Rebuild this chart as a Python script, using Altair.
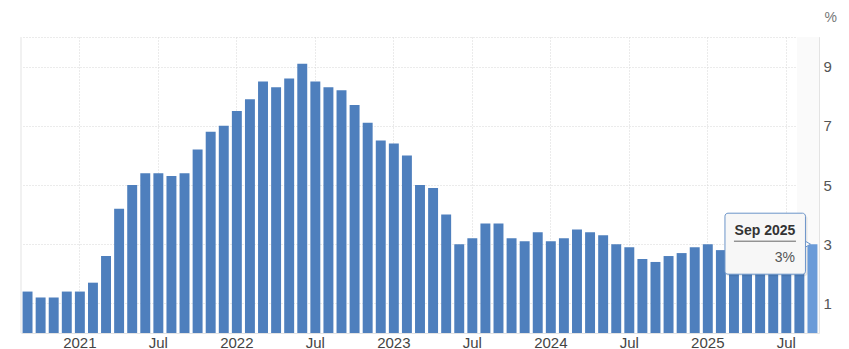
import altair as alt
import pandas as pd

# ---- data -------------------------------------------------------------
years = [2020] * 4 + [2021] * 12 + [2022] * 12 + [2023] * 12 + [2024] * 12 + [2025] * 9
month_nums = [9, 10, 11, 12] + list(range(1, 13)) * 4 + list(range(1, 10))
months = [f"{y}-{m:02d}" for y, m in zip(years, month_nums)]

values = [1.4, 1.2, 1.2, 1.4,
          1.4, 1.7, 2.6, 4.2, 5.0, 5.4, 5.4, 5.3, 5.4, 6.2, 6.8, 7.0,
          7.5, 7.9, 8.5, 8.3, 8.6, 9.1, 8.5, 8.3, 8.2, 7.7, 7.1, 6.5,
          6.4, 6.0, 5.0, 4.9, 4.0, 3.0, 3.2, 3.7, 3.7, 3.2, 3.1, 3.4,
          3.1, 3.2, 3.5, 3.4, 3.3, 3.0, 2.9, 2.5, 2.4, 2.6, 2.7, 2.9,
          3.0, 2.8, 2.4, 2.3, 2.4, 2.7, 2.7, 2.9, 3.0]

x_tick_values = [f"{y}-{m:02d}" for y in range(2021, 2026) for m in (1, 7)]
y_tick_values = [1, 3, 5, 7, 9, 10]

tip_month = "2025-09"
tip_value = 3.0
tip_title = "Sep 2025"
tip_text = "3%"

df = pd.DataFrame({"month": months, "value": values})
df["hl"] = df["month"] == tip_month
tip = pd.DataFrame({"month": [tip_month], "value": [tip_value],
                    "title": [tip_title], "text": [tip_text]})

# ---- styling ----------------------------------------------------------
FONT = "Liberation Sans"
GRID = "#d6d6d6"
LINE = "#e3e3e3"

xscale = alt.Scale(domain=months, paddingInner=0.24, paddingOuter=0.12)
yscale = alt.Scale(domain=[0, 10], nice=False, zero=True)

x_axis = alt.Axis(
    values=x_tick_values,
    labelExpr="substring(datum.value, 5) == '01' ? substring(datum.value, 0, 4) : 'Jul'",
    labelAngle=0, ticks=False, domain=True, domainColor=LINE,
    grid=True, gridColor=GRID, gridDash=[1, 2], gridWidth=1,
    bandPosition=0.5, labelPadding=2, labelFontSize=15,
    labelColor="#444", labelFont=FONT, title=None, zindex=0,
)
y_axis = alt.Axis(
    orient="right", values=y_tick_values,
    labelExpr="datum.value == 10 ? '' : datum.label",
    ticks=False, domain=True, domainColor=LINE,
    grid=True, gridColor=GRID, gridDash=[1, 2], gridWidth=1,
    labelPadding=4, labelFontSize=15, labelColor="#555", labelFont=FONT,
    title="%", titleAngle=0, titleAlign="left", titleBaseline="middle",
    titleX=5, titleY=-20, titleFontSize=14, titleFontWeight="normal",
    titleColor="#777", titleFont=FONT, zindex=0,
)

base = alt.Chart(df)

# faint hover column behind the highlighted bar
hover = alt.Chart(tip).mark_rect(
    color="#fafafa", xOffset=-15.5, x2Offset=6.5
).encode(
    x=alt.X("month:N", scale=xscale, bandPosition=0.5, axis=x_axis, sort=months),
    x2=alt.X2("month", bandPosition=0.5),
    y=alt.value(0), y2=alt.value(296),
)

bars = base.mark_bar().encode(
    x=alt.X("month:N", scale=xscale, axis=x_axis, sort=months),
    y=alt.Y("value:Q", scale=yscale, axis=y_axis),
    color=alt.condition("datum.hl", alt.value("#6a9bd8"), alt.value("#4e7fbd")),
)

left_line = alt.Chart(tip).mark_rule(color=LINE, strokeWidth=1).encode(
    x=alt.value(0), y=alt.value(0), y2=alt.value(296)
)

tx = dict(x=alt.X("month:N", scale=xscale, bandPosition=0.5, sort=months),
          y=alt.Y("value:Q", scale=yscale))

shadow = alt.Chart(tip).mark_rect(
    color="#000000", opacity=0.08, xOffset=-86.5, x2Offset=-5.0,
    yOffset=-29, y2Offset=32, cornerRadius=3,
).encode(x2=alt.X2("month", bandPosition=0.5), y2=alt.Y2("value"), **tx)

arrow = alt.Chart(tip).mark_point(
    shape="triangle-right", filled=True, fill="#f7f7f7", stroke="#6b94c9",
    strokeWidth=1, size=110, opacity=1, xOffset=-6.5,
).encode(**tx)

box = alt.Chart(tip).mark_rect(
    fill="#f7f7f7", stroke="#6b94c9", strokeWidth=1, cornerRadius=3,
    xOffset=-87.5, x2Offset=-7.0, yOffset=-31, y2Offset=30,
).encode(x2=alt.X2("month", bandPosition=0.5), y2=alt.Y2("value"), **tx)

underline = alt.Chart(tip).mark_rule(
    color="#666666", strokeWidth=1, xOffset=-78.5, x2Offset=-16.5, yOffset=-3,
).encode(x2=alt.X2("month", bandPosition=0.5), **tx)

title_txt = alt.Chart(tip).mark_text(
    font=FONT, fontSize=14, fontWeight="bold", color="#333333",
    align="center", baseline="middle", dx=-47.5, dy=-13,
).encode(text="title:N", **tx)

val_txt = alt.Chart(tip).mark_text(
    font=FONT, fontSize=14, color="#555555",
    align="right", baseline="middle", dx=-17.5, dy=14,
).encode(text="text:N", **tx)

chart = alt.layer(
    hover, bars, left_line, shadow, arrow, box, underline, title_txt, val_txt
).properties(
    width=798, height=296,
    autosize=alt.AutoSizeParams(type="none"),
    padding={"left": 21, "top": 37, "right": 30, "bottom": 16},
    background="white",
).configure_view(stroke=None)

chart.save("out.html", embed_options={"renderer": "svg", "actions": False})
